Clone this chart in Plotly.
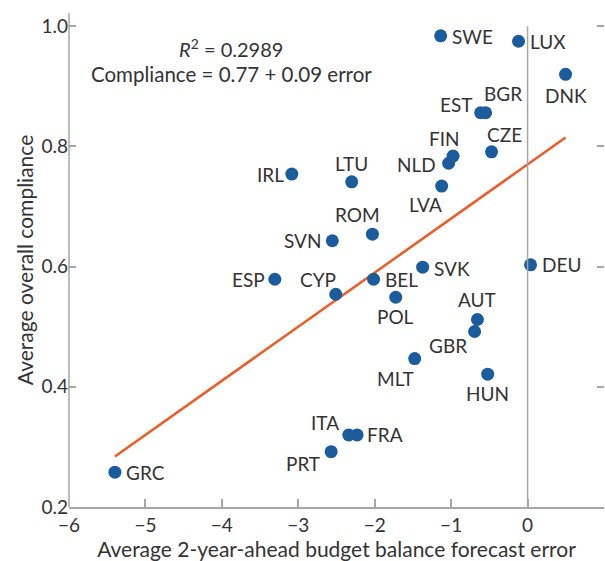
import plotly.graph_objects as go

countries = ["SWE", "LUX", "DNK", "EST", "BGR", "CZE", "FIN", "NLD", "LVA", "LTU",
             "IRL", "ROM", "SVN", "ESP", "CYP", "BEL", "SVK", "DEU", "POL", "AUT",
             "GBR", "MLT", "HUN", "ITA", "FRA", "PRT", "GRC"]
forecast_error = [-1.137, -0.118, 0.497, -0.614, -0.549, -0.471, -0.975, -1.033, -1.124, -2.301,
                  -3.085, -2.030, -2.555, -3.307, -2.510, -2.015, -1.373, 0.039, -1.725, -0.656,
                  -0.693, -1.477, -0.522, -2.340, -2.230, -2.570, -5.399]
compliance = [0.984, 0.975, 0.920, 0.856, 0.856, 0.791, 0.784, 0.772, 0.734, 0.741,
              0.754, 0.654, 0.643, 0.579, 0.554, 0.579, 0.599, 0.603, 0.549, 0.512,
              0.492, 0.447, 0.421, 0.320, 0.320, 0.292, 0.258]
intercept = 0.77
slope = 0.09
r_squared = 0.2989
x_ticks = [-6, -5, -4, -3, -2, -1, 0, 1]
y_ticks = [0.2, 0.4, 0.6, 0.8, 1.0]

# label placement style: (anchor, x shift px, y shift px down)
label_style = {
    "SWE": ("l", 10, 1), "LUX": ("l", 10, 0), "DNK": ("c", 0, 21), "EST": ("r", -7, -8),
    "BGR": ("l", -3, -19), "CZE": ("c", 13, -17), "FIN": ("c", -9, -18), "NLD": ("r", -12, 1),
    "LVA": ("c", -16, 18), "LTU": ("c", 0, -18), "IRL": ("r", -7, 0), "ROM": ("c", -15, -20),
    "SVN": ("r", -10, 0), "ESP": ("r", -9, 0), "CYP": ("c", -18, -15), "BEL": ("l", 10, 0),
    "SVK": ("l", 10, 1), "DEU": ("l", 10, 0), "POL": ("c", 0, 19), "AUT": ("c", 0, -20),
    "GBR": ("c", -27, 14), "MLT": ("c", -19, 20), "HUN": ("c", 0, 19), "ITA": ("c", -24, -12),
    "FRA": ("l", 9, 0), "PRT": ("c", -28, 12), "GRC": ("l", 10, 0),
}

FONT = "Lato"
TXT = "#333333"
BLUE = "#1a5c9c"
ORANGE = "#f15a22"
GREY = "#a6a6a6"

fig = go.Figure()

xmin, xmax = min(forecast_error), max(forecast_error)
fig.add_trace(go.Scatter(
    x=[xmin, xmax], y=[intercept + slope * xmin, intercept + slope * xmax],
    mode="lines", line=dict(color=ORANGE, width=2.5), hoverinfo="skip", showlegend=False))

fig.add_trace(go.Scatter(
    x=forecast_error, y=compliance, mode="markers",
    marker=dict(color=BLUE, size=13, line=dict(width=0)),
    text=countries, showlegend=False))

annotations = []
amap = {"l": "left", "r": "right", "c": "center"}
for c, xv, yv in zip(countries, forecast_error, compliance):
    a, dx, dy = label_style[c]
    annotations.append(dict(x=xv, y=yv, xref="x", yref="y", text=c, showarrow=False,
                            xanchor=amap[a], yanchor="middle", xshift=dx, yshift=-dy,
                            borderpad=0, font=dict(family=FONT, size=19, color=TXT)))

annotations.append(dict(x=-3.88, y=0.963, xref="x", yref="y", showarrow=False,
                        xanchor="center", yanchor="middle", borderpad=0,
                        text=f"<i>R</i><sup>2</sup> = {r_squared}",
                        font=dict(family=FONT, size=20, color=TXT)))
annotations.append(dict(x=-3.88, y=0.920, xref="x", yref="y", showarrow=False,
                        xanchor="center", yanchor="middle", borderpad=0,
                        text=f"Compliance = {intercept} + {slope} error",
                        font=dict(family=FONT, size=20.5, color=TXT)))

fig.update_layout(
    width=605, height=561,
    margin=dict(l=69, r=1, t=13, b=54),
    plot_bgcolor="white", paper_bgcolor="white",
    font=dict(family=FONT, size=19, color=TXT),
    annotations=annotations,
    shapes=[
        dict(type="line", xref="x", yref="y", x0=0, x1=0, y0=0.2, y1=1.0,
             line=dict(color=GREY, width=1.5)),
        dict(type="line", xref="paper", yref="paper", x0=0, x1=0, y0=0, y1=1,
             line=dict(color=GREY, width=1.5)),
    ],
    xaxis=dict(range=[-6, 1], tickvals=x_ticks, ticks="inside", ticklen=8, tickcolor=GREY,
               tickwidth=1.5, showline=True, linecolor=GREY, linewidth=1.5, showgrid=False,
               zeroline=False, tickfont=dict(family=FONT, size=19, color=TXT),
               title=dict(text="Average 2-year-ahead budget balance forecast error",
                          font=dict(family=FONT, size=21, color=TXT), standoff=6)),
    yaxis=dict(range=[0.2, 1.022], tickvals=y_ticks, tickformat=".1f", ticks="inside",
               ticklen=7, tickcolor=GREY, tickwidth=1.5, showline=False, mirror="ticks",
               showgrid=False, zeroline=False, tickfont=dict(family=FONT, size=19, color=TXT),
               title=dict(text="Average overall compliance",
                          font=dict(family=FONT, size=21, color=TXT), standoff=2)),
)

fig.write_html("out.html")
